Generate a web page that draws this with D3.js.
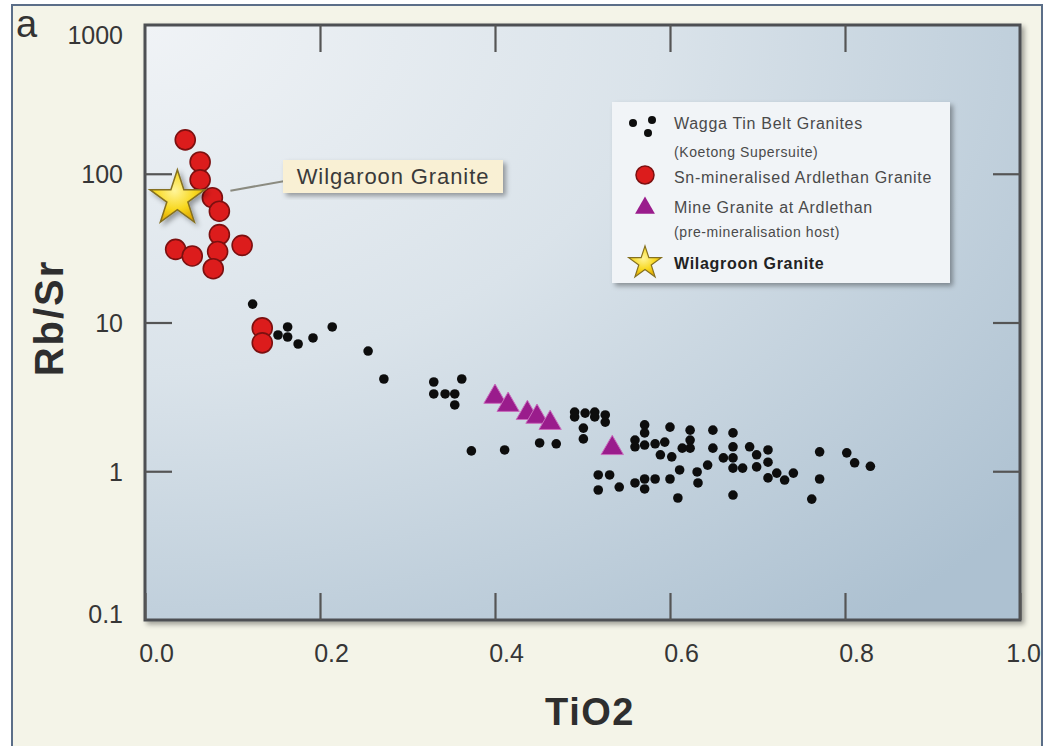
<!DOCTYPE html>
<html>
<head>
<meta charset="utf-8">
<script src="https://cdn.jsdelivr.net/npm/d3@7"></script>
<style>
  body { margin: 0; background: #fff; }
  svg { display: block; }
</style>
</head>
<body>
<div id="chart"></div>
<script>
// Wagga Tin Belt Granites (Koetong Supersuite)
var tinBeltTiO2 = [0.123, 0.152, 0.163, 0.163, 0.175, 0.192, 0.214, 0.255, 0.273, 0.330,
  0.330, 0.343, 0.354, 0.354, 0.362, 0.373, 0.411, 0.451, 0.470, 0.491,
  0.491, 0.503, 0.514, 0.514, 0.526, 0.526, 0.501, 0.501, 0.518, 0.531,
  0.518, 0.542, 0.560, 0.571, 0.583, 0.571, 0.600, 0.611, 0.609, 0.631,
  0.632, 0.643, 0.571, 0.571, 0.560, 0.560, 0.571, 0.583, 0.594, 0.589,
  0.602, 0.614, 0.623, 0.623, 0.600, 0.623, 0.649, 0.649, 0.661, 0.672,
  0.672, 0.672, 0.672, 0.683, 0.672, 0.691, 0.699, 0.699, 0.712, 0.712,
  0.712, 0.722, 0.731, 0.741, 0.771, 0.771, 0.762, 0.802, 0.811, 0.829];
var tinBeltRbSr = [13.3, 8.24, 9.33, 7.99, 7.17, 7.87, 9.33, 6.43, 4.17, 3.98,
  3.31, 3.31, 3.31, 2.79, 4.17, 1.37, 1.39, 1.55, 1.53, 2.50,
  2.32, 2.46, 2.50, 2.32, 2.39, 2.14, 1.95, 1.65, 0.944, 0.944,
  0.748, 0.783, 0.834, 0.887, 0.887, 0.760, 0.887, 1.02, 0.661, 0.989,
  0.834, 1.10, 2.05, 1.81, 1.62, 1.46, 1.50, 1.53, 1.57, 1.29,
  1.25, 1.43, 1.43, 1.62, 1.98, 1.89, 1.89, 1.43, 1.23, 1.81,
  1.46, 1.23, 1.05, 1.05, 0.692, 1.46, 1.29, 1.07, 1.39, 1.15,
  0.902, 0.972, 0.873, 0.972, 1.35, 0.887, 0.650, 1.33, 1.14, 1.08];

// Sn-mineralised Ardlethan Granite
var ardlethanTiO2 = [0.046, 0.063, 0.063, 0.077, 0.085, 0.085, 0.111, 0.035, 0.054, 0.083, 0.078, 0.134, 0.134];
var ardlethanRbSr = [169, 120, 91, 69, 56, 39, 33, 31, 28, 30, 23, 9.2, 7.3];

// Mine Granite at Ardlethan (pre-mineralisation host)
var mineTiO2 = [0.400, 0.415, 0.437, 0.448, 0.463, 0.534];
var mineRbSr = [3.16, 2.79, 2.46, 2.32, 2.11, 1.43];

// Wilgaroon Granite
var wilgaroonTiO2 = [0.037];
var wilgaroonRbSr = [68];

var xTicks = [0, 0.2, 0.4, 0.6, 0.8, 1.0];
var yTicks = [0.1, 1, 10, 100, 1000];

var legendLabels = ["Wagga Tin Belt Granites", "(Koetong Supersuite)", "Sn-mineralised Ardlethan Granite",
  "Mine Granite at Ardlethan", "(pre-mineralisation host)", "Wilagroon Granite"];

var svgWidth = 1051, svgHeight = 746;
var margin = { top: 25, right: 31, bottom: 126, left: 145 };
var width = svgWidth - margin.left - margin.right;
var height = svgHeight - margin.top - margin.bottom;

var font = "'Liberation Sans', Arial, Helvetica, sans-serif";

var svg = d3.select("#chart").append("svg")
  .attr("width", svgWidth)
  .attr("height", svgHeight);

var defs = svg.append("defs");

var bg = defs.append("radialGradient").attr("id", "plotBg")
  .attr("cx", "0%").attr("cy", "0%").attr("r", "130%");
bg.append("stop").attr("offset", "0%").attr("stop-color", "#f0f3f6");
bg.append("stop").attr("offset", "45%").attr("stop-color", "#dae3ea");
bg.append("stop").attr("offset", "100%").attr("stop-color", "#adc1d1");

var starGrad = defs.append("radialGradient").attr("id", "starFill")
  .attr("cx", "45%").attr("cy", "40%").attr("r", "60%");
starGrad.append("stop").attr("offset", "0%").attr("stop-color", "#fff59a");
starGrad.append("stop").attr("offset", "60%").attr("stop-color", "#f8d820");
starGrad.append("stop").attr("offset", "100%").attr("stop-color", "#e0a800");

var shadow = defs.append("filter").attr("id", "shadow")
  .attr("x", "-20%").attr("y", "-20%").attr("width", "140%").attr("height", "140%");
shadow.append("feDropShadow").attr("dx", 3).attr("dy", 3).attr("stdDeviation", 2.5)
  .attr("flood-color", "#000").attr("flood-opacity", 0.35);

var soft = defs.append("filter").attr("id", "soft");
soft.append("feGaussianBlur").attr("stdDeviation", 0.6);

defs.append("clipPath").attr("id", "frameClip")
  .append("rect").attr("x", 12).attr("y", 5).attr("width", 1030).attr("height", 745);

// outer panel
svg.append("rect")
  .attr("x", 12).attr("y", 5).attr("width", 1030).attr("height", 745)
  .attr("fill", "#f4f4e8")
  .attr("stroke", "#5b6e88")
  .attr("stroke-width", 2);

var panel = svg.append("g").attr("clip-path", "url(#frameClip)");

var xScale = d3.scaleLinear().domain([0, 1]).range([margin.left, margin.left + width]);
var yScale = d3.scaleLog().domain([0.1, 1000]).range([margin.top + height, margin.top]);

// plot background + frame
panel.append("rect")
  .attr("x", margin.left).attr("y", margin.top)
  .attr("width", width).attr("height", height)
  .attr("fill", "url(#plotBg)")
  .attr("stroke", "#4d4f52")
  .attr("stroke-width", 3)
  .attr("filter", "url(#shadow)");

// axes (inward ticks)
var tickLen = 27;
var bottomAxis = d3.axisBottom(xScale).tickValues(xTicks).tickSize(-tickLen).tickPadding(24)
  .tickFormat(d3.format(".1f"));
var topAxis = d3.axisTop(xScale).tickValues(xTicks.slice(1, -1)).tickSize(-tickLen).tickFormat("");
var leftAxis = d3.axisLeft(yScale).tickValues(yTicks).tickSize(-tickLen).tickPadding(22)
  .tickFormat(d => String(d));
var rightAxis = d3.axisRight(yScale).tickValues(yTicks.slice(1, -1)).tickSize(-tickLen).tickFormat("");

function styleAxis(g) {
  g.select(".domain").remove();
  g.selectAll(".tick line").attr("stroke", "#555").attr("stroke-width", 2.2);
  g.selectAll(".tick text").attr("fill", "#363636").style("font-family", font).style("font-size", "25px");
}

panel.append("g").attr("transform", `translate(0, ${margin.top + height})`).call(bottomAxis).call(styleAxis)
  .selectAll(".tick text").attr("dx", d => d === 1 ? 3 : 11);
panel.append("g").attr("transform", `translate(0, ${margin.top})`).call(topAxis).call(styleAxis);
var yAxisG = panel.append("g").attr("transform", `translate(${margin.left}, 0)`).call(leftAxis).call(styleAxis);
yAxisG.selectAll(".tick text").attr("dy", d => d === 1000 ? "0.72em" : (d === 0.1 ? "0.08em" : "0.36em"));
yAxisG.selectAll(".tick line").filter(d => d === 1000 || d === 0.1).remove();
panel.append("g").attr("transform", `translate(${margin.left + width}, 0)`).call(rightAxis).call(styleAxis);

// axis titles
panel.append("text")
  .attr("transform", "translate(63, 318) rotate(-90)")
  .attr("text-anchor", "middle")
  .style("font-family", font).style("font-size", "40px").style("font-weight", "bold")
  .style("letter-spacing", "2px")
  .attr("fill", "#2e2e2e")
  .text("Rb/Sr");

panel.append("text")
  .attr("x", 590).attr("y", 725)
  .attr("text-anchor", "middle")
  .style("font-family", font).style("font-size", "38px").style("font-weight", "bold")
  .style("letter-spacing", "1.5px")
  .attr("fill", "#2e2e2e")
  .text("TiO2");

panel.append("text")
  .attr("x", 16).attr("y", 37)
  .style("font-family", font).style("font-size", "38px")
  .attr("fill", "#333")
  .text("a");

// data marks
var plot = panel.append("g");

plot.append("g").attr("filter", "url(#soft)")
  .selectAll("circle")
  .data(d3.zip(tinBeltTiO2, tinBeltRbSr))
  .enter()
  .append("circle")
  .attr("cx", d => xScale(d[0]))
  .attr("cy", d => yScale(d[1]))
  .attr("r", 4.8)
  .attr("fill", "#0d0d0d");

plot.append("g")
  .selectAll("path")
  .data(d3.zip(mineTiO2, mineRbSr))
  .enter()
  .append("path")
  .attr("d", d3.symbol().type(d3.symbolTriangle).size(215))
  .attr("transform", d => `translate(${xScale(d[0])}, ${yScale(d[1])})`)
  .attr("fill", "#9a1c8c")
  .attr("stroke", "#c86cbc")
  .attr("stroke-width", 1);

plot.append("g")
  .selectAll("circle")
  .data(d3.zip(ardlethanTiO2, ardlethanRbSr))
  .enter()
  .append("circle")
  .attr("cx", d => xScale(d[0]))
  .attr("cy", d => yScale(d[1]))
  .attr("r", 10)
  .attr("fill", "#dc1c1c")
  .attr("stroke", "#7c1010")
  .attr("stroke-width", 1.6);

var starPts = d3.zip(wilgaroonTiO2, wilgaroonRbSr);
plot.append("g")
  .selectAll("path")
  .data(starPts)
  .enter()
  .append("path")
  .attr("d", d3.symbol().type(d3.symbolStar).size(940))
  .attr("transform", d => `translate(${xScale(d[0])}, ${yScale(d[1])})`)
  .attr("fill", "url(#starFill)")
  .attr("stroke", "#857020")
  .attr("stroke-width", 1.5)
  .attr("filter", "url(#shadow)");

// callout
var sx = xScale(wilgaroonTiO2[0]), sy = yScale(wilgaroonRbSr[0]);
panel.append("line")
  .attr("x1", sx + 53).attr("y1", sy - 8)
  .attr("x2", 285).attr("y2", 181)
  .attr("stroke", "#8b8b80").attr("stroke-width", 2);
panel.append("rect")
  .attr("x", 283).attr("y", 160).attr("width", 220).attr("height", 33)
  .attr("fill", "#f9f0d4")
  .attr("filter", "url(#shadow)");
panel.append("text")
  .attr("x", 393).attr("y", 184)
  .attr("text-anchor", "middle")
  .style("font-family", font).style("font-size", "22px")
  .style("letter-spacing", "0.9px")
  .attr("fill", "#3a3a3a")
  .text("Wilgaroon Granite");

// legend
var legend = panel.append("g");
legend.append("rect")
  .attr("x", 612).attr("y", 102).attr("width", 338).attr("height", 181)
  .attr("fill", "#f1f4f7")
  .attr("filter", "url(#shadow)");

var legendY = [123, 152, 177, 207, 232, 263];
var legendSmall = [false, true, false, false, true, false];
legend.selectAll("text.lbl")
  .data(legendLabels)
  .enter()
  .append("text")
  .attr("class", "lbl")
  .attr("x", 674)
  .attr("y", (d, i) => legendY[i])
  .attr("dy", "0.35em")
  .style("font-family", font)
  .style("font-size", (d, i) => legendSmall[i] ? "14px" : "16px")
  .style("font-weight", (d, i) => i === 5 ? "bold" : "normal")
  .style("letter-spacing", (d, i) => legendSmall[i] ? "0.6px" : "0.7px")
  .attr("fill", (d, i) => i === 5 ? "#222" : "#4a4a4a")
  .text(d => d);

legend.selectAll("circle.dot")
  .data([[633, 123], [652, 120], [648, 133]])
  .enter()
  .append("circle")
  .attr("cx", d => d[0]).attr("cy", d => d[1])
  .attr("r", 4).attr("fill", "#0d0d0d");
legend.append("circle").attr("cx", 645).attr("cy", 175).attr("r", 9)
  .attr("fill", "#dc1c1c").attr("stroke", "#7c1010").attr("stroke-width", 1.5);
legend.append("path").attr("d", d3.symbol().type(d3.symbolTriangle).size(170))
  .attr("transform", "translate(645, 208)").attr("fill", "#9a1c8c");
legend.append("path").attr("d", d3.symbol().type(d3.symbolStar).size(330))
  .attr("transform", "translate(645, 263)")
  .attr("fill", "url(#starFill)").attr("stroke", "#857020").attr("stroke-width", 1.2);
</script>
</body>
</html>
